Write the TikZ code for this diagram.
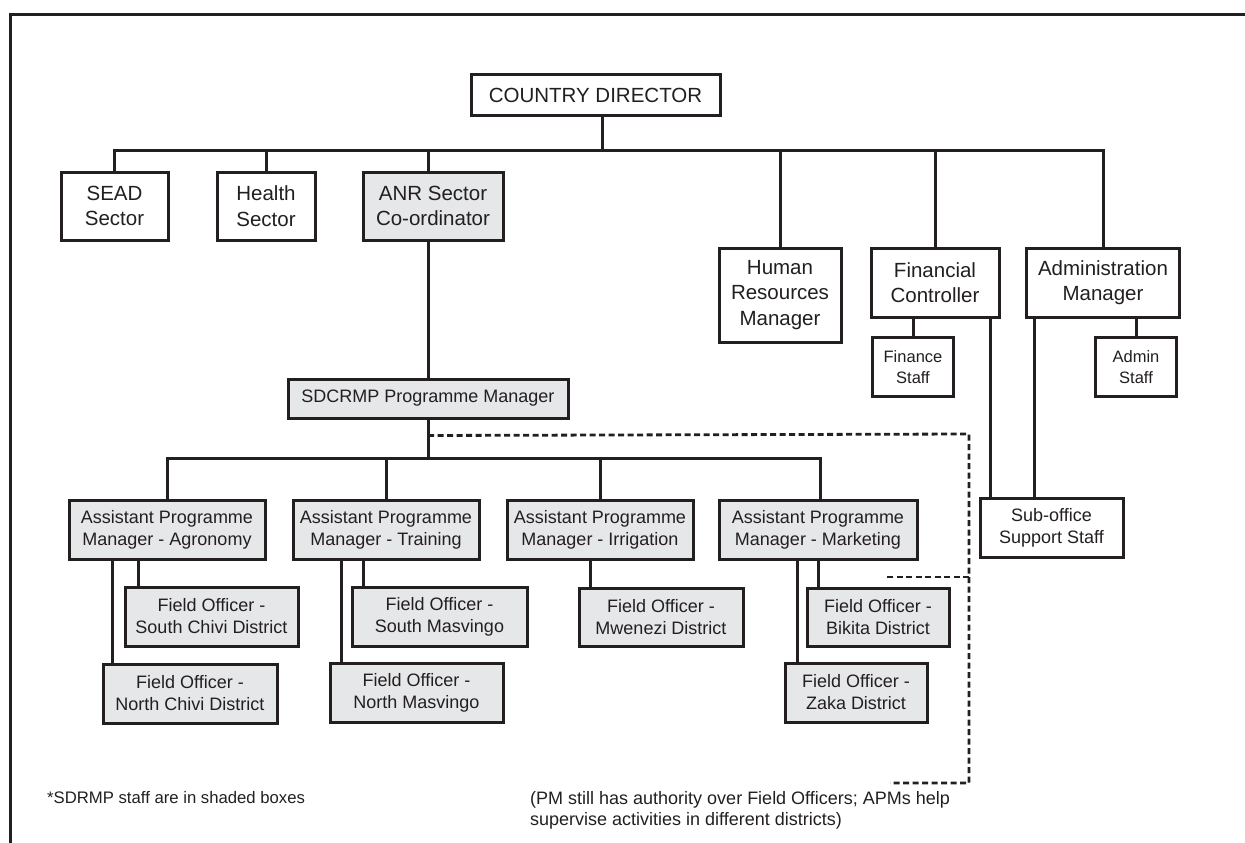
\documentclass[tikz,border=0pt]{standalone}
\usepackage{fontspec}
\setmainfont{Liberation Sans}
\usetikzlibrary{calc}
\definecolor{ink}{HTML}{231F20}
\definecolor{shade}{HTML}{E6E7E8}
\tikzset{
  box/.style={draw=ink, line width=3pt, inner sep=0pt, align=center, fill=white, text=ink},
  sdbox/.style={box, fill=shade},
  sz/.style 2 args={minimum width=#1pt, minimum height=#2pt},
  big/.style={font=\fontsize{20.5}{25.5}\selectfont},
  mid/.style={font=\fontsize{18}{22}\selectfont},
  sml/.style={font=\fontsize{16.5}{20.5}\selectfont},
  link/.style={line width=3pt, draw=ink},
  dotlink/.style={line width=2.8pt, draw=ink, dash pattern=on 6pt off 3.5pt},
}
\begin{document}
\begin{tikzpicture}[x=1pt, y=-1pt]
\useasboundingbox (0,0) rectangle (1245,843);
% outer frame (top and left edges)
\draw[line width=3pt, draw=ink] (10,843) -- (10,15) -- (1245,15);

% top level
\node[box, big, sz={249}{40}] (cd) at (595.5,95) {COUNTRY DIRECTOR};
\coordinate (bus1) at (0,150);
\node[box, big, sz={107}{68}] (sead) at (114.5,206) {SEAD\\Sector};
\node[box, big, sz={98}{68}] (health) at (266,206) {Health\\Sector};
\node[sdbox, big, sz={140}{68}] (anr) at (433,206) {ANR Sector\\Co-ordinator};
\node[box, big, sz={122}{94}] (hr) at (780,295) {Human\\Resources\\Manager};
\node[box, big, sz={128}{69}] (fin) at (935,282.5) {Financial\\Controller};
\node[box, big, sz={153}{69}] (adm) at (1103,282.5) {Administration\\Manager};

\draw[link] ([xshift=6.5pt]cd.south) -- ([xshift=6.5pt]cd.south |- bus1);
\draw[link] (sead.north) -- (sead.north |- bus1) -- (adm.north |- bus1) -- (adm.north);
\draw[link] (health.north) -- (health.north |- bus1);
\draw[link] ([xshift=-5pt]anr.north) -- ([xshift=-5pt]anr.north |- bus1);
\draw[link] (hr.north) -- (hr.north |- bus1);
\draw[link] (fin.north) -- (fin.north |- bus1);

% finance and administration staff
\node[box, sml, sz={81}{59}] (fstaff) at (913,367) {Finance\\Staff};
\node[box, sml, sz={81}{59}] (astaff) at (1136,367) {Admin\\Staff};
\node[box, mid, sz={143}{59}] (sub) at (1051.5,527.5) {Sub-office\\Support Staff};
\draw[link] (fstaff.north |- fin.south) -- (fstaff.north);
\draw[link] (astaff.north |- adm.south) -- (astaff.north);
\draw[link] ([xshift=-61.5pt]sub.north |- fin.south) -- ([xshift=-61.5pt]sub.north);
\draw[link] ([xshift=-17.5pt]sub.north |- adm.south) -- ([xshift=-17.5pt]sub.north);

% programme
\node[sdbox, mid, sz={280}{39}] (sdc) at (428,398.5) {SDCRMP Programme Manager};
\draw[link] ([xshift=-5pt]anr.south) -- (sdc.north);
\coordinate (bus2) at (0,458);

\node[sdbox, mid, sz={196}{59}] (agr) at (167,529.5) {Assistant Programme\\Manager - Agronomy};
\node[sdbox, mid, sz={186}{59}] (trn) at (386,529.5) {Assistant Programme\\Manager - Training};
\node[sdbox, mid, sz={186}{59}] (irr) at (600,529.5) {Assistant Programme\\Manager - Irrigation};
\node[sdbox, mid, sz={198}{59}] (mkt) at (818,529.5) {Assistant Programme\\Manager - Marketing};

\draw[link] (sdc.south) -- (sdc.south |- bus2);
\draw[link] (agr.north) -- (agr.north |- bus2) -- ([xshift=2pt]mkt.north |- bus2) -- ([xshift=2pt]mkt.north);
\draw[link] (trn.north) -- (trn.north |- bus2);
\draw[link] (irr.north) -- (irr.north |- bus2);

% field officers
\node[sdbox, mid, sz={173}{59}] (fosc) at (211.5,616.5) {Field Officer -\\South Chivi District};
\node[sdbox, mid, sz={174}{59}] (fonc) at (190,693.5) {Field Officer -\\North Chivi District};
\node[sdbox, mid, sz={175}{59}] (fosm) at (439.5,616.5) {Field Officer -\\South Masvingo};
\node[sdbox, mid, sz={173}{59}] (fonm) at (416.5,692.5) {Field Officer -\\North Masvingo};
\node[sdbox, mid, sz={164}{58}] (fomw) at (661,617) {Field Officer -\\Mwenezi District};
\node[sdbox, mid, sz={142}{58}] (fobk) at (878,617) {Field Officer -\\Bikita District};
\node[sdbox, mid, sz={142}{59}] (fozk) at (856,692.5) {Field Officer -\\Zaka District};

\draw[link] ([xshift=-73.5pt]fosc.north |- agr.south) -- ([xshift=-73.5pt]fosc.north);
\draw[link] ([xshift=-78pt]fonc.north |- agr.south) -- ([xshift=-78pt]fonc.north);
\draw[link] ([xshift=-76.5pt]fosm.north |- trn.south) -- ([xshift=-76.5pt]fosm.north);
\draw[link] ([xshift=-75.5pt]fonm.north |- trn.south) -- ([xshift=-75.5pt]fonm.north);
\draw[link] ([xshift=-71pt]fomw.north |- irr.south) -- ([xshift=-71pt]fomw.north);
\draw[link] ([xshift=-60pt]fobk.north |- mkt.south) -- ([xshift=-60pt]fobk.north);
\draw[link] ([xshift=-59pt]fozk.north |- mkt.south) -- ([xshift=-59pt]fozk.north);

% dashed supervision line from the programme manager
\coordinate (dstart) at ($(sdc.south)+(0,16)$);
\coordinate (dcorner) at (969,434);
\coordinate (dbranch) at (969,577);
\coordinate (dbottom) at (969,783);
\coordinate (dbranchend) at (885,577);
\coordinate (dbottomend) at (890,783);
\draw[dotlink] (dstart) -- (dcorner) -- (dbottom) -- (dbottomend);
\draw[dotlink] (dbranch) -- (dbranchend);

% notes
\node[anchor=base west, align=left, inner sep=0pt, text=ink, font=\fontsize{18}{20.5}\selectfont] (note) at (530,825)
  {(PM still has authority over Field Officers; APMs help\\supervise activities in different districts)};
\node[anchor=base west, inner sep=0pt, text=ink, font=\fontsize{16.7}{20}\selectfont] (foot) at (47,803)
  {*SDRMP staff are in shaded boxes};
\end{tikzpicture}
\end{document}
